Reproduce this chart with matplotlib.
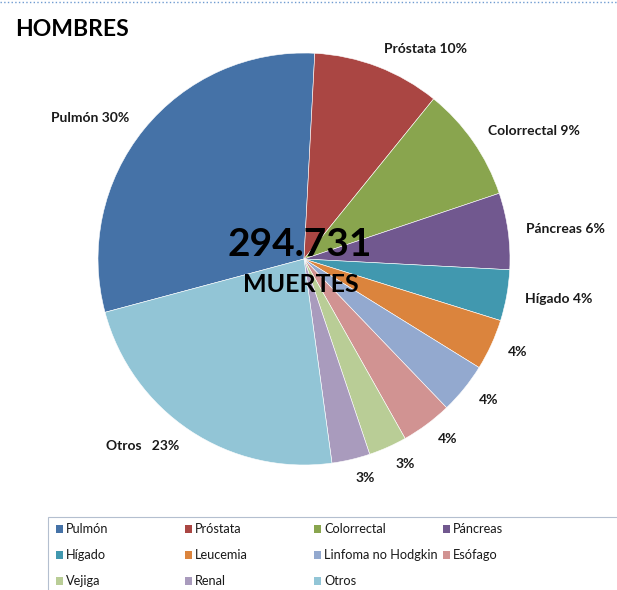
import matplotlib
matplotlib.use("Agg")
import matplotlib.pyplot as plt
from matplotlib.patches import Rectangle
from matplotlib.lines import Line2D

plt.rcParams['font.family'] = ['Lato', 'DejaVu Sans']

causas = ['Pulmón', 'Próstata', 'Colorrectal', 'Páncreas', 'Hígado', 'Leucemia',
          'Linfoma no Hodgkin', 'Esófago', 'Vejiga', 'Renal', 'Otros']
porcentajes = [30, 10, 9, 6, 4, 4, 4, 4, 3, 3, 23]
colores = ['#4572A7', '#AA4643', '#89A54E', '#71588F', '#4198AF', '#DB843D',
           '#93A9CF', '#D19392', '#B9CD96', '#A99BBD', '#92C5D6']
con_nombre = ['Pulmón', 'Próstata', 'Colorrectal', 'Páncreas', 'Hígado']
total_muertes = '294.731'

etiquetas = []
for c, p in zip(causas, porcentajes):
    if c == 'Otros':
        etiquetas.append(f'{c}   {p}%')
    elif c in con_nombre:
        etiquetas.append(f'{c} {p}%')
    else:
        etiquetas.append(f'{p}%')

W, H = 617, 590
fig = plt.figure(figsize=(W / 100, H / 100), dpi=100)

# pie box: centre (304, 259) px, radius 206 px
cx, cy, r = 304, 259, 206
ax = fig.add_axes([(cx - r) / W, (H - cy - r) / H, 2 * r / W, 2 * r / H])

wedges, texts = ax.pie(porcentajes, colors=colores, labels=etiquetas,
                       startangle=195, counterclock=False, labeldistance=1.09,
                       wedgeprops=dict(edgecolor='white', linewidth=0.4),
                       textprops=dict(fontsize=10, fontweight='bold', color='#1a1a1a'))
ax.set_xlim(-1, 1)
ax.set_ylim(-1, 1)

ax.text(-0.02, 0.07, total_muertes, ha='center', va='center',
        fontsize=28, fontweight='bold', color='black')
ax.text(-0.015, -0.125, 'MUERTES', ha='center', va='center',
        fontsize=18, fontweight='bold', color='black')

fig.text(15 / W, 1 - 30 / H, 'HOMBRES', ha='left', va='center',
         fontsize=16.5, fontweight='bold')

# dotted line at the very top
fig.add_artist(Line2D([0, 1], [1 - 2 / H, 1 - 2 / H], transform=fig.transFigure,
                      color='#6F9BD1', linestyle=':', linewidth=1))

# legend box, open at right and bottom like the source
fig.add_artist(Rectangle((48 / W, -0.1), 1, (H - 517) / H + 0.1,
                         transform=fig.transFigure, facecolor='none',
                         edgecolor='#B4BFCF', linewidth=0.8))

# legend entries laid out row by row, Excel style
for i, (nombre, col) in enumerate(zip(causas, colores)):
    fila, columna = divmod(i, 4)
    x = 56 + 129 * columna
    y = 529 + 26 * fila
    fig.add_artist(Rectangle((x / W, 1 - (y + 4) / H), 7 / W, 8 / H,
                             transform=fig.transFigure, facecolor=col,
                             edgecolor='none'))
    fig.text((x + 10) / W, 1 - y / H, nombre, ha='left', va='center',
             fontsize=9.2, color='#1a1a1a')

fig.savefig('out.png', dpi=100)
